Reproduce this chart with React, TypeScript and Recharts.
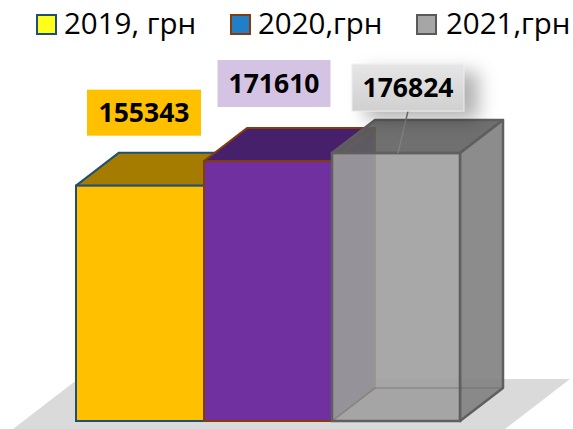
import { BarChart, Bar, XAxis, YAxis, LabelList, Legend } from 'recharts'

const seriesNames = ['2019, грн', '2020,грн', '2021,грн']
const seriesKeys = ['y2019', 'y2020', 'y2021']
const seriesValues = [155343, 171610, 176824]

const rows = [{
  name: 'total',
  y2019: seriesValues[0],
  y2020: seriesValues[1],
  y2021: seriesValues[2],
}]

// legend swatches do not use the bar colours in the original
const SWATCHES = [
  { fill: '#ffff1a', stroke: '#1f4e79', left: 36, textLeft: 64 },
  { fill: '#1f7fc8', stroke: '#843c0c', left: 230, textLeft: 258 },
  { fill: '#a6a6a6', stroke: '#595959', left: 416, textLeft: 446 },
]

const CUBES = [
  { front: '#ffc000', top: '#a67c00', side: '#b38600', stroke: '#1f4e79', weight: 2, opacity: 1 },
  { front: '#7030a0', top: '#47206b', side: '#4a2070', stroke: '#843c0c', weight: 2, opacity: 1 },
  { front: '#9f9f9f', top: '#616161', side: '#808080', stroke: '#5f5f5f', weight: 2.5, opacity: 0.9 },
]

const LABELS = [
  { fill: '#ffc000', dx: 4, top: -96, w: 114, h: 46 },
  { fill: '#d5c3e3', dx: 6, top: -101, w: 113, h: 47 },
  { fill: 'url(#greyLabel)', dx: 12, top: -89, w: 112, h: 47 },
]

const DX = 43
const DY = 33

const pts = (list: number[][]) => list.map(p => p.join(',')).join(' ')

function Cuboid(props: any) {
  const { x, y, width, height, index } = props
  const c = CUBES[index]
  const r = x + width
  const b = y + height
  return (
    <g>
      {index === 0 && (
        <polygon
          points={pts([[x - 63, 429], [x + 2, 379], [570, 379], [505, 429]])}
          fill="#dbdadb"
        />
      )}
      <polygon
        points={pts([[x, y], [x + DX, y - DY], [r + DX, y - DY], [r, y]])}
        fill={c.top} fillOpacity={c.opacity} stroke={c.stroke} strokeWidth={c.weight} strokeLinejoin="round"
      />
      <polygon
        points={pts([[r, y], [r + DX, y - DY], [r + DX, b - DY], [r, b]])}
        fill={c.side} fillOpacity={c.opacity} stroke={c.stroke} strokeWidth={c.weight} strokeLinejoin="round"
      />
      <rect
        x={x} y={y} width={width} height={height}
        fill={c.front} fillOpacity={c.opacity} stroke={c.stroke} strokeWidth={c.weight}
      />
      {/* hidden back edges show through the see-through 2021 box */}
      {index === 2 && (
        <polyline
          points={pts([[x, b], [x + DX, b - DY], [r + DX, b - DY]])}
          fill="none" stroke={c.stroke} strokeWidth={1.5} opacity={0.35}
        />
      )}
    </g>
  )
}

function ValueLabel({ x, y, width, value, index }: any) {
  const l = LABELS[index]
  const cx = x + width / 2 + l.dx
  const top = y + l.top
  return (
    <g>
      {index === 2 && (
        <defs>
          <linearGradient id="greyLabel" x1="0" y1="0" x2="0" y2="1">
            <stop offset="0" stopColor="#e6e6e6" />
            <stop offset="1" stopColor="#d0d0d0" />
          </linearGradient>
        </defs>
      )}
      {index === 2 && <line x1={cx} y1={top + l.h} x2={cx - 10} y2={y} stroke="#808080" strokeWidth={1.5} />}
      <rect
        x={cx - l.w / 2} y={top} width={l.w} height={l.h}
        fill={l.fill}
        stroke={index === 2 ? '#eeeeee' : 'none'}
        style={index === 2 ? { filter: 'drop-shadow(14px 8px 9px rgba(0,0,0,0.3))' } : undefined}
      />
      <text
        x={cx} y={top + l.h / 2 + 9.5} textAnchor="middle"
        fontFamily="'Noto Sans', sans-serif" fontWeight={700} fontSize={26.5} fill="#000"
      >
        {value}
      </text>
    </g>
  )
}

function TopLegend() {
  return (
    <div style={{ position: 'relative', width: 573, height: 50 }}>
      {SWATCHES.map((s, i) => (
        <div key={seriesNames[i]}>
          <div style={{
            position: 'absolute', left: s.left, top: 14, width: 17, height: 17,
            background: s.fill, border: `2px solid ${s.stroke}`,
          }} />
          <div style={{
            position: 'absolute', left: s.textLeft, top: 4, lineHeight: '38px', whiteSpace: 'nowrap',
            fontFamily: "'Open Sans', sans-serif", fontSize: 29.5, color: '#000',
          }}>
            {seriesNames[i]}
          </div>
        </div>
      ))}
    </div>
  )
}

export default function App() {
  return (
    <div style={{ position: 'absolute', left: 0, top: 0, width: 573, height: 429, overflow: 'hidden' }}>
      <BarChart
        width={573} height={429} data={rows}
        margin={{ top: 68, right: 112, bottom: 8, left: 76 }}
        barCategoryGap={0} barGap={0}
      >
        <XAxis dataKey="name" hide />
        <YAxis hide domain={[0, 200000]} />
        <Legend
          content={() => <TopLegend />}
          verticalAlign="top"
          wrapperStyle={{ position: 'absolute', left: 0, top: 0, width: 573, height: 50 }}
        />
        {seriesKeys.map((key, i) => (
          <Bar
            key={key}
            dataKey={key}
            name={seriesNames[i]}
            isAnimationActive={false}
            shape={(p: any) => <Cuboid {...p} index={i} />}
          >
            <LabelList
              dataKey={key}
              content={(p: any) => <ValueLabel {...p} index={i} />}
            />
          </Bar>
        ))}
      </BarChart>
    </div>
  )
}
